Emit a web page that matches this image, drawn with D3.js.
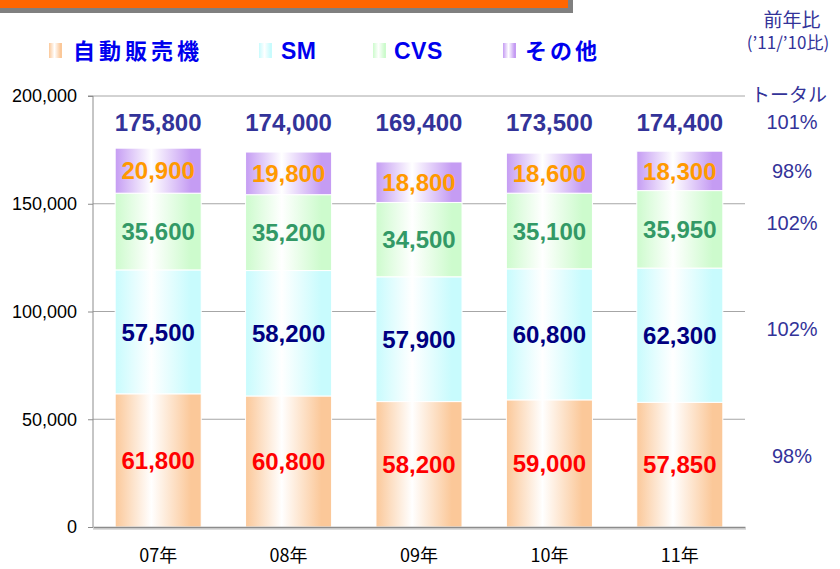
<!DOCTYPE html>
<html>
<head>
<meta charset="utf-8">
<script src="https://cdn.jsdelivr.net/npm/d3@7"></script>
<style>
  body { margin: 0; background: #fff; }
  text { font-family: "Liberation Sans", Arial, "Noto Sans CJK JP", sans-serif; }
  .jp { font-family: "Noto Sans CJK JP", sans-serif; }
</style>
</head>
<body>
<div id="chart"></div>
<script>
// chart data
const years = ['07年', '08年', '09年', '10年', '11年'];
const seriesNames = ['自動販売機', 'SM', 'CVS', 'その他'];
const vending = [61800, 60800, 58200, 59000, 57850];
const sm = [57500, 58200, 57900, 60800, 62300];
const cvs = [35600, 35200, 34500, 35100, 35950];
const other = [20900, 19800, 18800, 18600, 18300];
const totals = [175800, 174000, 169400, 173500, 174400];
const yTicks = [0, 50000, 100000, 150000, 200000];
const ratioSeries = ['98%', '102%', '102%', '98%'];   // per series, '11/'10
const ratioTotal = '101%';

const seriesValues = [vending, sm, cvs, other];
const fillColors = ['#fbc899', '#c8fbfd', '#cdfbcd', '#c59cf3'];
const labelColors = ['#ff0000', '#000080', '#339966', '#ff9900'];

const width = 840, height = 569;
const margin = { top: 96, right: 95, bottom: 42, left: 93 };
const innerW = width - margin.left - margin.right;
const innerH = height - margin.top - margin.bottom;

const svg = d3.select('#chart').append('svg')
    .attr('width', width)
    .attr('height', height);

// gradients for the bars
const defs = svg.append('defs');
fillColors.forEach((c, i) => {
    const g = defs.append('linearGradient')
        .attr('id', 'grad' + i)
        .attr('x1', '0%').attr('x2', '100%')
        .attr('y1', '0%').attr('y2', '0%');
    g.append('stop').attr('offset', '0%').attr('stop-color', c);
    g.append('stop').attr('offset', '42%').attr('stop-color', '#ffffff');
    g.append('stop').attr('offset', '88%').attr('stop-color', c);
    g.append('stop').attr('offset', '100%').attr('stop-color', c);
});

// orange header bar with shadow
svg.append('rect').attr('x', 0).attr('y', 0).attr('width', 573).attr('height', 13).attr('fill', '#808080');
svg.append('rect').attr('x', 0).attr('y', 0).attr('width', 568).attr('height', 8).attr('fill', '#ff6600');

const chart = svg.append('g')
    .attr('transform', `translate(${margin.left},${margin.top})`);

const x = d3.scaleBand().domain(years).range([0, innerW]).paddingInner(0.34).paddingOuter(0.17);
const y = d3.scaleLinear().domain([0, 200000]).range([innerH, 0]);

// gridlines
chart.selectAll('.grid')
    .data(yTicks.slice(1))
    .join('line')
    .attr('class', 'grid')
    .attr('x1', 0).attr('x2', innerW)
    .attr('y1', d => y(d)).attr('y2', d => y(d))
    .attr('stroke', '#a6a6a6').attr('stroke-width', 1);

// stacked data
const table = years.map((yr, i) => {
    const row = { year: yr };
    seriesNames.forEach((s, k) => { row[s] = seriesValues[k][i]; });
    return row;
});
const stack = d3.stack().keys(seriesNames)(table);

stack.forEach((layer, k) => {
    chart.selectAll('.bar' + k)
        .data(layer)
        .join('rect')
        .attr('class', 'bar' + k)
        .attr('x', d => x(d.data.year))
        .attr('width', x.bandwidth())
        .attr('y', d => y(d[1]))
        .attr('height', d => y(d[0]) - y(d[1]))
        .attr('fill', `url(#grad${k})`)
        .attr('stroke', '#ffffff')
        .attr('stroke-width', 1);

    chart.selectAll('.lbl' + k)
        .data(layer)
        .join('text')
        .attr('class', 'lbl' + k)
        .attr('x', d => x(d.data.year) + x.bandwidth() / 2)
        .attr('y', d => y((d[0] + d[1]) / 2))
        .attr('dy', '0.36em')
        .attr('text-anchor', 'middle')
        .attr('font-size', 24)
        .attr('font-weight', 'bold')
        .attr('fill', labelColors[k])
        .text(d => d3.format(',')(d.data[seriesNames[k]]));
});

// totals above bars
chart.selectAll('.total')
    .data(totals)
    .join('text')
    .attr('class', 'total')
    .attr('x', (d, i) => x(years[i]) + x.bandwidth() / 2)
    .attr('y', y(188000))
    .attr('dy', '0.36em')
    .attr('text-anchor', 'middle')
    .attr('font-size', 24)
    .attr('font-weight', 'bold')
    .attr('fill', '#333399')
    .text(d => d3.format(',')(d));

// axes
const yAxis = chart.append('g')
    .call(d3.axisLeft(y).tickValues(yTicks).tickFormat(d3.format(',')).tickSize(5).tickPadding(11));
yAxis.select('.domain').attr('stroke', '#8c8c8c').attr('d', `M-5,0H0V${innerH}`);
yAxis.selectAll('.tick line').attr('stroke', '#8c8c8c');
yAxis.selectAll('.tick text').attr('font-size', 18).attr('fill', '#000');

// bottom axis with slight shadow
chart.append('line').attr('x1', 0).attr('x2', innerW + 1).attr('y1', innerH + 2).attr('y2', innerH + 2)
    .attr('stroke', '#dddddd').attr('stroke-width', 2);
const xAxis = chart.append('g')
    .attr('transform', `translate(0,${innerH})`)
    .call(d3.axisBottom(x).tickSize(0).tickPadding(22));
xAxis.select('.domain').attr('stroke', '#8c8c8c').attr('stroke-width', 1.5);
xAxis.selectAll('.tick text').attr('font-size', 18).attr('fill', '#000')
    .attr('class', 'jp');

// legend
const legendX = [49, 259, 373, 503];
const legendTextX = [73, 281, 394, 525];
const legend = svg.append('g');
seriesNames.forEach((s, k) => {
    const isJp = k === 0 || k === 3;
    legend.append('rect')
        .attr('x', legendX[k]).attr('y', 43)
        .attr('width', 13).attr('height', 15)
        .attr('fill', `url(#grad${k})`);
    legend.append('text')
        .attr('class', isJp ? 'jp' : null)
        .attr('x', legendTextX[k]).attr('y', 51)
        .attr('dy', '0.36em')
        .attr('font-size', isJp ? 22 : 23)
        .attr('letter-spacing', k === 0 ? 4 : k === 3 ? 3 : 0.5)
        .attr('font-weight', 'bold')
        .attr('fill', '#0000ee')
        .text(s);
});

// right side: year on year ratio
const rx = margin.left + innerW + 47;
svg.append('text').attr('class', 'jp').attr('x', rx).attr('y', 20).attr('dy', '0.36em')
    .attr('text-anchor', 'middle').attr('font-size', 19).attr('fill', '#333399').text('前年比');
svg.append('text').attr('class', 'jp').attr('x', rx - 4).attr('y', 43).attr('dy', '0.36em')
    .attr('text-anchor', 'middle').attr('font-size', 17).attr('fill', '#333399').text('(’11/’10比)');
svg.append('text').attr('class', 'jp').attr('x', rx - 3).attr('y', 95).attr('dy', '0.36em')
    .attr('text-anchor', 'middle').attr('font-size', 19).attr('fill', '#333399').text('トータル');
svg.append('text').attr('x', rx).attr('y', 122).attr('dy', '0.36em')
    .attr('text-anchor', 'middle').attr('font-size', 20).attr('fill', '#333399').text(ratioTotal);

const last = years.length - 1;
const ratioOffset = [-9, -6, -7, 0];
svg.selectAll('.ratio')
    .data(ratioSeries)
    .join('text')
    .attr('class', 'ratio')
    .attr('x', rx)
    .attr('y', (d, k) => margin.top + y((stack[k][last][0] + stack[k][last][1]) / 2) + ratioOffset[k])
    .attr('dy', '0.36em')
    .attr('text-anchor', 'middle')
    .attr('font-size', 20)
    .attr('fill', '#333399')
    .text(d => d);
</script>
</body>
</html>
